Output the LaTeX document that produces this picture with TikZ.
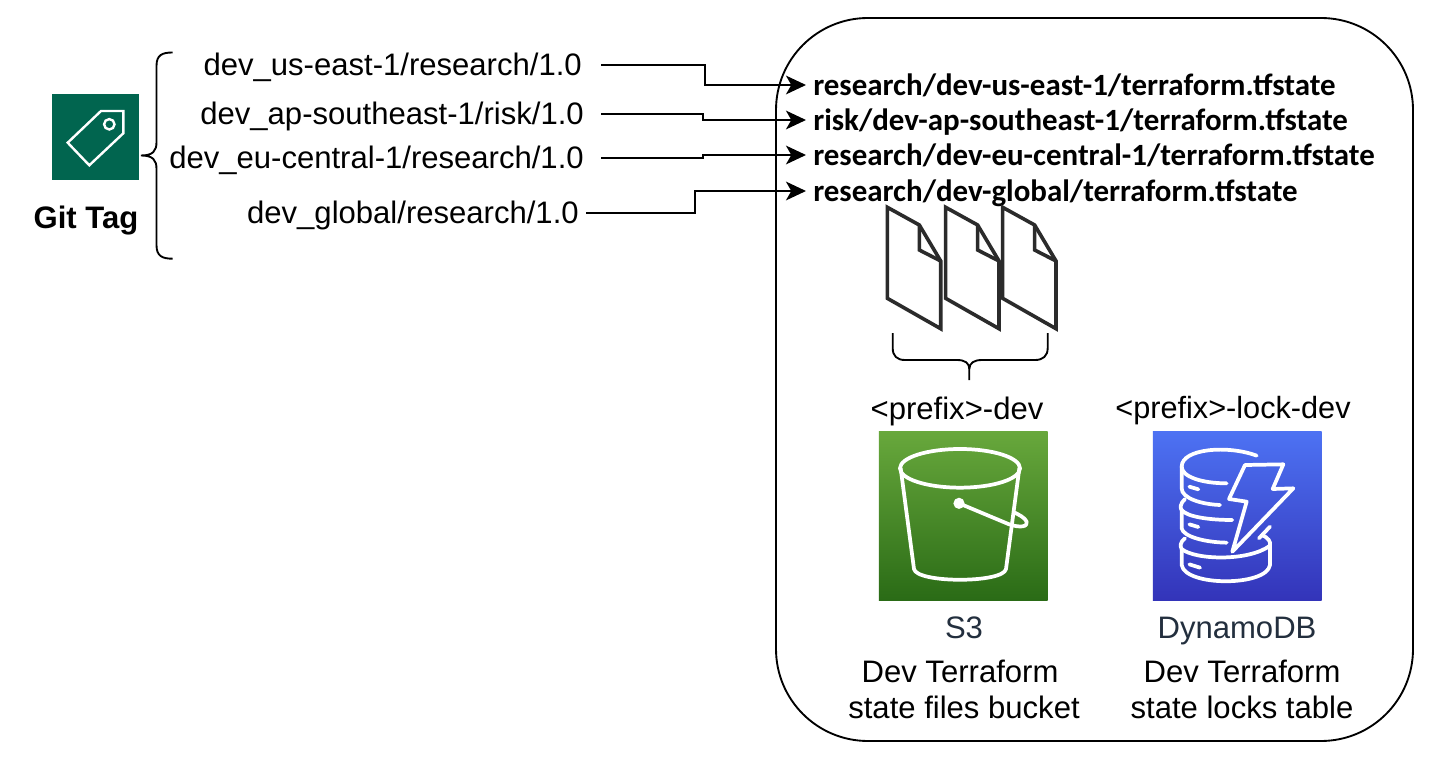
\documentclass[tikz,border=0pt]{standalone}
\usepackage{fontspec}
\setmainfont{Liberation Sans}
\newfontfamily\calib{Carlito}
\usetikzlibrary{arrows.meta}
\definecolor{tagbg}{HTML}{01654F}
\definecolor{awsink}{HTML}{232F3E}
\definecolor{docink}{HTML}{2B2B2B}
\definecolor{greentop}{HTML}{68A83C}
\definecolor{greenbot}{HTML}{2A6B16}
\definecolor{bluetop}{HTML}{4D72F3}
\definecolor{bluebot}{HTML}{3334B9}
\tikzset{
 x=0.75pt,y=-0.75pt,
 conn/.style={line width=1.5pt,-{Stealth[length=15pt,width=14pt,inset=4pt]}},
 bracestroke/.style={line width=1.4pt,line cap=butt},
 srctxt/.style={font=\fontsize{23.3}{28}\selectfont,inner sep=0pt,text height=21pt,text depth=4.5pt,anchor=east},
 dsttxt/.style={font=\calib\bfseries\fontsize{23.2}{28}\selectfont,inner ysep=0pt,inner xsep=5.25pt,text height=21pt,text depth=4.5pt,anchor=west},
 captxt/.style={font=\fontsize{23.3}{27}\selectfont,align=center,inner sep=0pt},
 iconline/.style={white,line width=2.8pt,line join=round,line cap=round},
 docline/.style={docink,line width=2.7pt,line join=miter},
 zoomed/.style={x=0.25pt,y=-0.25pt},
}
\begin{document}
\begin{tikzpicture}
\useasboundingbox (0,0) rectangle (1431,759);
\fill[white] (0,0) rectangle (1431,759);
% container
\draw[line width=1.4pt,rounded corners=69pt] (776,18) rectangle (1413,741);
% git tag icon
\node[fill=tagbg,minimum size=64.7pt,inner sep=0pt] (tag) at (95.5,137) {};
\draw[white,line width=1.8pt,line join=miter] (67.7,142.7)--(101,111)--(123.3,111)--(123.3,133.3)--(89.3,165.3)--cycle;
\draw[white,line width=1.8pt] (109.3,124.3) circle[radius=3.9pt];
\node[font=\bfseries\fontsize{23.3}{28}\selectfont,inner sep=0pt] (git) at (86,221) {Git Tag};
% left brace
\draw[bracestroke] (172.7,52.5) .. controls (162,52.5) and (156.5,55) .. (156.5,66) -- (156.5,142)
  .. controls (156.5,151) and (153,155.5) .. (141,155.5) .. controls (153,155.5) and (156.5,160) .. (156.5,169)
  -- (156.5,245) .. controls (156.5,256) and (162,258.7) .. (172.7,258.7);
% source labels
\node[srctxt] (s1) at (582,65) {dev\_us-east-1/research/1.0};
\node[srctxt] (s2) at (584,114) {dev\_ap-southeast-1/risk/1.0};
\node[srctxt] (s3) at (584,158) {dev\_eu-central-1/research/1.0};
\node[srctxt] (s4) at (579,213) {dev\_global/research/1.0};
% destination labels
\node[dsttxt] (d1) at (806,85) {research/dev-us-east-1/terraform.tfstate};
\node[dsttxt] (d2) at (806,120) {risk/dev-ap-southeast-1/terraform.tfstate};
\node[dsttxt] (d3) at (806,155) {research/dev-eu-central-1/terraform.tfstate};
\node[dsttxt] (d4) at (806,191) {research/dev-global/terraform.tfstate};
% connectors
\draw[conn] ([xshift=14.25pt]s1.east) -- (705,65) -- (705,85) -- (d1.west);
\draw[conn] ([xshift=12.75pt]s2.east) -- (703,114) -- (703,120) -- (d2.west);
\draw[conn] ([xshift=12.75pt]s3.east) -- (703,158) -- (703,155) -- (d3.west);
\draw[conn] ([xshift=5.25pt]s4.east) -- (695,213) -- (695,191) -- (d4.west);
% documents
\foreach \dx in {0,58.3,115.3}{
\begin{scope}[shift={(\dx,0)}]
\draw[docline] (887.3,207.3)--(919.3,225)--(940.7,261)--(940.7,328.7)--(887.3,298.3)--cycle;
\draw[docline] (919.3,225)--(919.3,250)--(940.7,261);
\end{scope}}
% lower brace
\draw[bracestroke] (892.7,333) -- (892.7,348) .. controls (892.7,356) and (897,360) .. (905,360) -- (957,360)
  .. controls (965,360) and (969.3,363) .. (969.3,369) -- (969.3,380);
\draw[bracestroke] (1047.7,333) -- (1047.7,348) .. controls (1047.7,356) and (1043,360) .. (1035,360) -- (982,360)
  .. controls (974,360) and (969.3,363) .. (969.3,369);
% S3 icon
\node[inner sep=0pt,minimum width=126.5pt,minimum height=126.8pt,top color=greentop,bottom color=greenbot] (bucketicon) at (963.3,515.8) {};
\begin{scope}[shift={(870,425)},zoomed]
\draw[iconline] (270,130) ellipse[x radius=45pt,y radius=14.5pt];
\draw[iconline] (92,130) -- (132,432) .. controls (140,475) and (400,475) .. (408,432) -- (448,130);
\fill[white] (267,235) circle[radius=4.2pt];
\draw[iconline] (267,235) -- (415,297) .. controls (450,310) and (475,305) .. (470,290) .. controls (465,278) and (445,268) .. (432,262);
\end{scope}
% DynamoDB icon
\node[inner sep=0pt,minimum width=126.5pt,minimum height=126.8pt,top color=bluetop,bottom color=bluebot] (dynamoicon) at (1237.3,515.8) {};
\begin{scope}[shift={(1145,425)},zoomed]
\draw[iconline] (335,92) .. controls (250,60) and (110,70) .. (110,125) .. controls (110,155) and (170,175) .. (245,175);
\draw[iconline] (110,125) -- (110,190) .. controls (110,220) and (170,238) .. (225,240);
\draw[iconline] (120,222) .. controls (105,235) and (105,250) .. (110,255) .. controls (125,275) and (190,285) .. (262,285);
\draw[iconline] (110,255) -- (110,310) .. controls (115,335) and (180,352) .. (245,353);
\draw[iconline] (120,340) .. controls (105,350) and (105,365) .. (110,372) .. controls (150,405) and (310,410) .. (375,362) .. controls (378,350) and (370,338) .. (350,330);
\draw[iconline] (342,340) -- (375,305);
\draw[iconline] (110,372) -- (110,420) .. controls (120,485) and (365,485) .. (375,420) -- (375,362);
\draw[iconline] (133,185) -- (160,193);
\draw[iconline] (133,298) -- (160,306);
\draw[iconline] (133,418) -- (165,428);
\draw[iconline] (300,120) -- (415,118) -- (383,192) -- (445,190) -- (262,380) -- (305,230) -- (252,222) -- cycle;
\end{scope}
% captions
\node[captxt] (pfx1) at (957,411) {<prefix>-dev};
\node[captxt,font=\fontsize{23}{27}\selectfont] (pfx2) at (1233,411) {<prefix>-lock-dev};
\node[captxt,text=awsink] (name1) at (964,628) {S3};
\node[captxt,text=awsink] (name2) at (1237,631) {DynamoDB};
\node[captxt] (desc1) at (964,689) {Dev Terraform\hspace*{6pt}\\state files bucket};
\node[captxt] (desc2) at (1242,689) {Dev Terraform\\state locks table};
\end{tikzpicture}
\end{document}
